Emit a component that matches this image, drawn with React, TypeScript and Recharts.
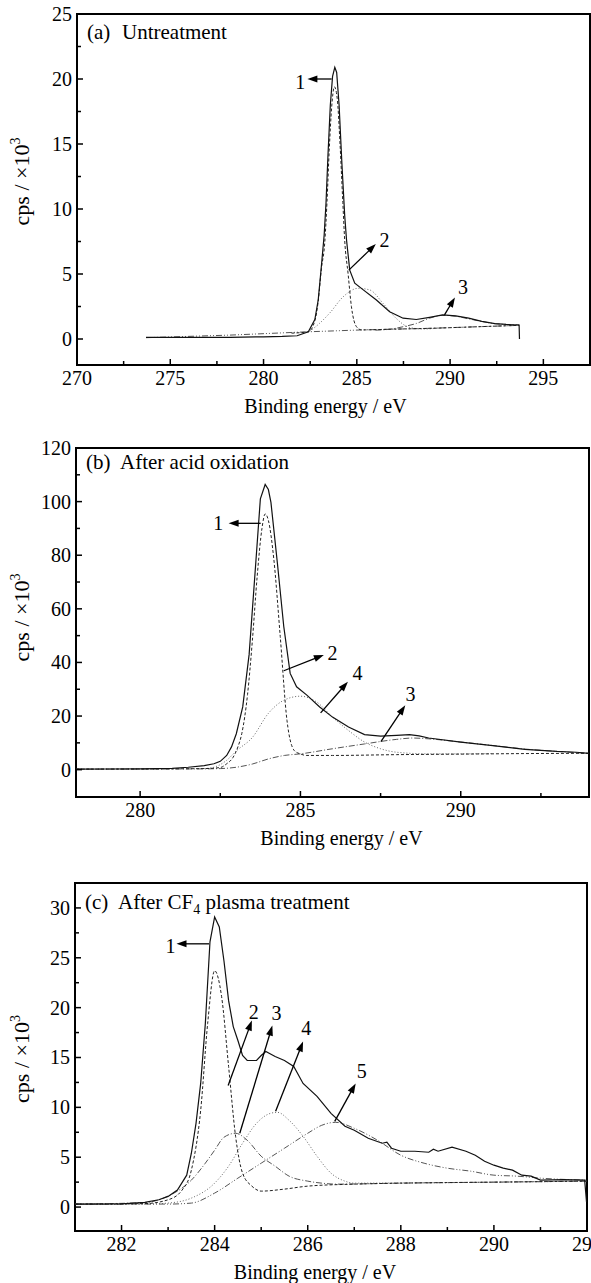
import React from "react";
import {
  LineChart, Line, XAxis, YAxis, ReferenceLine, ReferenceDot, ReferenceArea,
} from "recharts";

type Pt = [number, number];

const FONT = '"Liberation Serif", "Times New Roman", serif';

// ---- (a) Untreatment ----
const aTotal: Pt[] = [
  [273.7, 0.12], [275, 0.12], [277, 0.12], [278.2, 0.13], [280, 0.17], [281, 0.2], [281.8, 0.25],
  [282.4, 0.56], [282.75, 1.5], [282.93, 3.0], [283.1, 5.6], [283.25, 8.0], [283.35, 10.5],
  [283.45, 14.0], [283.58, 18.0], [283.7, 20.2], [283.82, 20.9], [283.92, 20.5], [284.05, 18.0],
  [284.2, 13.5], [284.35, 9.5], [284.45, 7.6], [284.62, 5.3], [284.89, 4.3], [285.33, 3.8],
  [286.05, 3.0], [286.76, 2.1], [287.48, 1.6], [288.19, 1.5], [288.9, 1.67], [289.6, 1.85],
  [290.3, 1.78], [291, 1.6], [291.7, 1.35], [292.4, 1.18], [293.0, 1.12], [293.7, 1.08], [293.72, 0],
];
const aPeak1: Pt[] = [
  [281.5, 0.45], [282.4, 0.56], [282.75, 1.4], [282.93, 2.9], [283.1, 5.4], [283.28, 7.4],
  [283.4, 10.5], [283.52, 14.5], [283.65, 17.8], [283.8, 19.4], [283.95, 18.5], [284.1, 15],
  [284.25, 10.5], [284.35, 7.6], [284.53, 5.05], [284.71, 2.5], [284.98, 0.95], [285.25, 0.7],
  [287, 0.76], [288.9, 0.82], [291, 0.92], [293.7, 1.05],
];
const aPeak2: Pt[] = [
  [282.48, 0.6], [283.0, 1.2], [283.55, 2.0], [284.27, 3.25], [285.07, 3.9], [285.7, 3.77],
  [286.4, 2.75], [287.1, 1.6], [287.8, 0.9], [288.55, 0.77], [289.5, 0.85],
];
const aPeak3: Pt[] = [
  [286.0, 0.68], [286.76, 0.75], [287.5, 0.95], [288.2, 1.2], [288.9, 1.6], [289.6, 1.82],
  [290.3, 1.75], [291.0, 1.55], [291.7, 1.35], [292.4, 1.18], [293.0, 1.12], [293.7, 1.08],
];
const aBase: Pt[] = [[273.7, 0.1], [278.2, 0.3], [282.3, 0.55], [285.3, 0.7], [288.9, 0.82], [293.7, 1.05]];
const aXMajor = [270, 275, 280, 285, 290, 295];
const aXMinor = [272.5, 277.5, 282.5, 287.5, 292.5];
const aYMajor = [0, 5, 10, 15, 20, 25];
const aYMinor = [2.5, 7.5, 12.5, 17.5, 22.5];
const aNotes = [
  { n: "1", tail: [283.65, 20] as Pt, head: [282.35, 20] as Pt, at: [281.97, 19.8] as Pt },
  { n: "2", tail: [284.57, 5.3] as Pt, head: [286.02, 7.3] as Pt, at: [286.48, 7.6] as Pt },
  { n: "3", tail: [289.7, 1.85] as Pt, head: [290.26, 3.2] as Pt, at: [290.69, 4.0] as Pt },
];

// ---- (b) After acid oxidation ----
const bTotal: Pt[] = [
  [278, 0.2], [279, 0.25], [280, 0.3], [280.5, 0.35], [281, 0.5], [281.5, 0.9], [282, 1.5],
  [282.3, 2.2], [282.5, 3.1], [282.7, 5.3], [282.85, 8.5], [283, 13.4], [283.2, 23.4],
  [283.4, 43], [283.6, 76], [283.75, 101], [283.9, 106.4], [284.0, 104.5], [284.08, 99.7],
  [284.28, 77.2], [284.48, 53.4], [284.68, 35.9], [284.88, 30.9], [285.2, 27.8], [285.6, 23.4],
  [286, 19.6], [286.5, 15.9], [287, 13.1], [287.5, 12.5], [288, 12.8], [288.4, 13.1],
  [288.7, 12.6], [289, 11.8], [290, 10.3], [291, 9.0], [292, 7.6], [293, 6.8], [293.6, 6.5], [294, 6.1],
];
const bPeak1: Pt[] = [
  [278, 0.2], [281, 0.3], [282, 0.4], [282.5, 0.8], [282.7, 2.2], [282.9, 4.6], [283.05, 8.5],
  [283.17, 13.4], [283.35, 28], [283.5, 48], [283.65, 72], [283.8, 90], [283.9, 95.4], [284.0, 93],
  [284.17, 78.5], [284.37, 49.7], [284.58, 18.4], [284.81, 7.1], [284.99, 5.9], [285.2, 5.3],
  [286, 5.3], [288, 5.6], [290, 5.8], [292, 6.0], [294, 6.1],
];
const bPeak4: Pt[] = [
  [282.0, 0.4], [282.3, 0.9], [282.7, 3.5], [283, 7], [283.5, 12], [284, 21], [284.5, 26],
  [285, 27.4], [285.5, 25.3], [286, 19.6], [286.5, 14.6], [287, 10.3], [287.5, 7.8], [288, 6.5],
  [289, 5.9], [290, 5.9], [291, 6.0],
];
const bPeak3: Pt[] = [
  [278, 0.2], [282, 0.3], [282.5, 0.4], [283, 0.9], [283.5, 2.1], [284, 4.0], [284.5, 5.3],
  [285, 5.9], [286, 7.8], [287, 9.6], [288, 11.3], [288.5, 11.8], [289, 11.5], [290, 10.3],
  [291, 9.0], [292, 7.7], [293, 6.8], [294, 6.1],
];
const bXMajor = [280, 285, 290];
const bXMinor = [282.5, 287.5, 292.5];
const bYMajor = [0, 20, 40, 60, 80, 100, 120];
const bYMinor = [10, 30, 50, 70, 90, 110];
const bNotes = [
  { n: "1", tail: [283.76, 91.9] as Pt, head: [282.76, 91.9] as Pt, at: [282.44, 91.9] as Pt },
  { n: "2", tail: [284.48, 36.9] as Pt, head: [285.73, 42.8] as Pt, at: [286.0, 43.4] as Pt },
  { n: "4", tail: [285.63, 21.2] as Pt, head: [286.48, 32.8] as Pt, at: [286.78, 35.9] as Pt },
  { n: "3", tail: [287.51, 10.5] as Pt, head: [288.27, 24] as Pt, at: [288.43, 28.4] as Pt },
];

// ---- (c) After CF4 plasma treatment ----
const cTotal: Pt[] = [
  [281, 0.3], [282, 0.33], [282.5, 0.47], [282.8, 0.73], [283, 1.07], [283.2, 1.7], [283.4, 3.2],
  [283.5, 5.4], [283.6, 8.4], [283.7, 12.4], [283.8, 18.4], [283.9, 26.6], [284.0, 29.1],
  [284.1, 28.1], [284.2, 24.7], [284.3, 20.7], [284.4, 18.1], [284.5, 16.7], [284.6, 15.2],
  [284.7, 14.7], [284.9, 14.7], [285.0, 15.2], [285.1, 15.6], [285.3, 15.1], [285.5, 14.7],
  [285.7, 14.1], [285.9, 12.4], [286.2, 11.1], [286.5, 9.4], [286.8, 8.1], [287, 7.7],
  [287.3, 6.9], [287.6, 6.4], [287.7, 6.5], [287.8, 5.9], [288, 5.6], [288.3, 5.6], [288.6, 5.5],
  [288.7, 5.8], [288.8, 5.6], [289.1, 6.0], [289.4, 5.6], [289.6, 5.2], [289.8, 4.6], [290, 4.2],
  [290.2, 3.9], [290.4, 3.7], [290.6, 3.2], [290.8, 3.1], [291, 2.7], [291.5, 2.75], [291.95, 2.7],
  [291.99, 0.5],
];
const cPeak1: Pt[] = [
  [281, 0.3], [282.5, 0.35], [283, 0.73], [283.3, 1.7], [283.5, 3.7], [283.7, 9.7], [283.85, 18.4],
  [284.0, 23.7], [284.15, 21.1], [284.3, 14.1], [284.45, 7.1], [284.6, 3.4], [284.8, 2.1],
  [285, 1.6], [285.5, 1.8], [286, 2.1], [287, 2.3], [288, 2.4], [290, 2.5], [292, 2.6],
];
const cPeak3: Pt[] = [
  [281, 0.3], [282.5, 0.45], [283, 1.1], [283.5, 2.7], [283.8, 4.4], [284.0, 5.7], [284.2, 7.0],
  [284.45, 7.4], [284.7, 6.7], [285, 5.1], [285.3, 4.1], [285.6, 3.1], [286, 2.6], [286.3, 2.4],
  [286.6, 2.3], [288, 2.4], [290, 2.5], [292, 2.6],
];
const cPeak4: Pt[] = [
  [281, 0.3], [282.5, 0.3], [283, 0.4], [283.5, 0.9], [284, 2.4], [284.3, 4.1], [284.6, 6.4],
  [284.9, 8.4], [285.2, 9.4], [285.35, 9.5], [285.6, 8.7], [285.9, 7.1], [286.2, 5.1], [286.5, 3.4],
  [286.8, 2.6], [287, 2.4], [289, 2.45], [292, 2.6],
];
const cPeak5: Pt[] = [
  [281, 0.3], [283, 0.3], [283.5, 0.4], [284, 1.4], [284.5, 2.9], [285, 4.4], [285.5, 5.9],
  [286, 7.4], [286.3, 8.2], [286.6, 8.5], [287, 7.9], [287.5, 6.7], [288, 5.2], [288.5, 4.4],
  [289, 3.9], [289.5, 3.6], [290, 3.2], [290.5, 3.1], [291, 2.9], [292, 2.7],
];
const cXMajor = [282, 284, 286, 288, 290, 292];
const cXMinor = [283, 285, 287, 289, 291];
const cYMajor = [0, 5, 10, 15, 20, 25, 30];
const cYMinor = [2.5, 7.5, 12.5, 17.5, 22.5, 27.5];
const cNotes = [
  { n: "1", tail: [283.88, 26.4] as Pt, head: [283.18, 26.4] as Pt, at: [283.05, 26.2] as Pt },
  { n: "2", tail: [284.29, 12.2] as Pt, head: [284.8, 18.7] as Pt, at: [284.84, 19.6] as Pt },
  { n: "3", tail: [284.54, 7.4] as Pt, head: [285.24, 18.2] as Pt, at: [285.33, 19.5] as Pt },
  { n: "4", tail: [285.31, 9.6] as Pt, head: [285.9, 16.6] as Pt, at: [285.97, 18] as Pt },
  { n: "5", tail: [286.58, 8.6] as Pt, head: [287.03, 12.4] as Pt, at: [287.16, 13.6] as Pt },
];

const SOLID = { stroke: "#111", strokeWidth: 1.2 };
const DASH = { stroke: "#222", strokeWidth: 1, strokeDasharray: "3 2" };
const DOT = { stroke: "#666", strokeWidth: 1, strokeDasharray: "1 2" };
const DASHDOT = { stroke: "#555", strokeWidth: 1, strokeDasharray: "6 2 1 2" };
const DASHDOT2 = { stroke: "#555", strokeWidth: 1, strokeDasharray: "6 2 1 2 1 2" };

const toXY = (pts: Pt[]) => pts.map(([x, y]) => ({ x, y }));

function Arrow(p: any) {
  const { x1, y1, x2, y2 } = p;
  const dx = x2 - x1, dy = y2 - y1;
  const len = Math.hypot(dx, dy) || 1;
  const ux = dx / len, uy = dy / len;
  const hl = 10, hw = 3.5;
  const bx = x2 - ux * hl, by = y2 - uy * hl;
  const pts = `${x2},${y2} ${bx - uy * hw},${by + ux * hw} ${bx + uy * hw},${by - ux * hw}`;
  return (
    <g>
      <line x1={x1} y1={y1} x2={bx + ux * 2} y2={by + uy * 2} stroke="#000" strokeWidth={1.3} />
      <polygon points={pts} fill="#000" />
    </g>
  );
}

const makeXTick = (majors: number[]) => (p: any) => {
  const v = p.payload.value;
  const major = majors.includes(v);
  return (
    <g>
      <line x1={p.x} x2={p.x} y1={p.y} y2={p.y - (major ? 6 : 4)} stroke="#000" strokeWidth={1.5} />
      {major && (
        <text x={p.x} y={p.y + 20} textAnchor="middle" fontSize={20} fontFamily={FONT} fill="#000">{v}</text>
      )}
    </g>
  );
};

const makeYTick = (majors: number[]) => (p: any) => {
  const v = p.payload.value;
  const major = majors.includes(v);
  return (
    <g>
      <line x1={p.x} x2={p.x + (major ? 6 : 4)} y1={p.y} y2={p.y} stroke="#000" strokeWidth={1.5} />
      {major && (
        <text x={p.x - 5} y={p.y + 7} textAnchor="end" fontSize={20} fontFamily={FONT} fill="#000">{v}</text>
      )}
    </g>
  );
};

type Series = { pts: Pt[]; style: any; curve?: "linear" | "monotone" };
type Note = { n: string; tail: Pt; head: Pt; at: Pt };

function Panel(props: {
  top: number; height: number; margin: any; yw: number; xh: number;
  xDomain: [number, number]; yDomain: [number, number];
  xMajor: number[]; xMinor: number[]; yMajor: number[]; yMinor: number[];
  series: Series[]; notes: Note[];
  tag: string; title: (x: number) => React.ReactNode; titleDy: number; titleX: number;
  xTitleDx: number; yTitleDy: number;
}) {
  const p = props;
  const xTicks = [...p.xMajor, ...p.xMinor].sort((a, b) => a - b);
  const yTicks = [...p.yMajor, ...p.yMinor].sort((a, b) => a - b);
  return (
    <div style={{ position: "absolute", left: 0, top: p.top }}>
      <LineChart width={591} height={p.height} margin={p.margin}>
        <XAxis
          type="number" dataKey="x" domain={p.xDomain} ticks={xTicks} interval={0}
          allowDataOverflow tickSize={0} tickMargin={0} tickLine={false} axisLine={false}
          height={p.xh} tick={makeXTick(p.xMajor)}
          label={{
            content: (lp: any) => {
              const vb = lp.viewBox;
              return (
                <text x={vb.x + vb.width / 2 + p.xTitleDx} y={vb.y + 48} textAnchor="middle"
                  fontSize={20} fontFamily={FONT} fill="#000">Binding energy / eV</text>
              );
            },
          }}
        />
        <YAxis
          type="number" domain={p.yDomain} ticks={yTicks} interval={0}
          allowDataOverflow tickSize={0} tickMargin={0} tickLine={false} axisLine={false}
          width={p.yw} tick={makeYTick(p.yMajor)}
          label={{
            content: (lp: any) => {
              const vb = lp.viewBox;
              const cy = vb.y + vb.height / 2 + p.yTitleDy;
              return (
                <text x={29} y={cy} transform={`rotate(-90 29 ${cy})`} textAnchor="middle"
                  fontSize={22} fontFamily={FONT} fill="#000">
                  <tspan>cps / ×10</tspan>
                  <tspan dy={-9} fontSize={14}>3</tspan>
                </text>
              );
            },
          }}
        />
        {p.series.map((s, i) => (
          <Line
            key={i} data={toXY(s.pts)} dataKey="y" type={s.curve ?? "monotone"}
            dot={false} activeDot={false} isAnimationActive={false} {...s.style}
          />
        ))}
        {p.notes.map((a) => (
          <ReferenceLine
            key={"l" + a.n}
            segment={[{ x: a.tail[0], y: a.tail[1] }, { x: a.head[0], y: a.head[1] }]}
            ifOverflow="visible" shape={Arrow}
          />
        ))}
        {p.notes.map((a) => (
          <ReferenceDot
            key={"d" + a.n} x={a.at[0]} y={a.at[1]} ifOverflow="visible"
            shape={(dp: any) => (
              <text x={dp.cx} y={dp.cy + 7} textAnchor="middle" fontSize={20}
                fontFamily={FONT} fill="#000">{a.n}</text>
            )}
          />
        ))}
        <ReferenceDot
          x={p.xDomain[0]} y={p.yDomain[1]} ifOverflow="visible"
          shape={(dp: any) => (
            <text x={dp.cx + 10} y={dp.cy + p.titleDy} fontSize={21} fontFamily={FONT} fill="#000">
              <tspan>{p.tag}</tspan>
              {p.title(dp.cx + p.titleX)}
            </text>
          )}
        />
        <ReferenceArea
          x1={p.xDomain[0]} x2={p.xDomain[1]} y1={p.yDomain[0]} y2={p.yDomain[1]}
          fill="none" stroke="#000" strokeWidth={2} ifOverflow="visible"
        />
      </LineChart>
    </div>
  );
}

export default function App() {
  return (
    <div style={{ position: "absolute", left: 0, top: 0, width: 591, height: 1283, background: "#fff", fontFamily: FONT }}>
      <Panel
        top={0} height={420} margin={{ top: 14, right: 1, bottom: 0, left: 0 }} yw={77} xh={55}
        xDomain={[270, 297.5]} yDomain={[-2, 25]}
        xMajor={aXMajor} xMinor={aXMinor} yMajor={aYMajor} yMinor={aYMinor}
        series={[
          { pts: aBase, style: DASHDOT2, curve: "linear" },
          { pts: aPeak3, style: DASHDOT },
          { pts: aPeak2, style: DOT },
          { pts: aPeak1, style: DASH },
          { pts: aTotal, style: SOLID, curve: "linear" },
        ]}
        notes={aNotes}
        tag="(a)" titleX={45} titleDy={25}
        title={(x) => <tspan x={x}>Untreatment</tspan>}
        xTitleDx={-8} yTitleDy={-8}
      />
      <Panel
        top={420} height={430} margin={{ top: 28, right: 2, bottom: 0, left: 0 }} yw={76} xh={53}
        xDomain={[278, 294]} yDomain={[-10.2, 120]}
        xMajor={bXMajor} xMinor={bXMinor} yMajor={bYMajor} yMinor={bYMinor}
        series={[
          { pts: bPeak3, style: DASHDOT },
          { pts: bPeak4, style: DOT },
          { pts: bPeak1, style: DASH },
          { pts: bTotal, style: SOLID, curve: "linear" },
        ]}
        notes={bNotes}
        tag="(b)" titleX={44} titleDy={21}
        title={(x) => <tspan x={x}>After acid oxidation</tspan>}
        xTitleDx={9} yTitleDy={-5}
      />
      <Panel
        top={850} height={433} margin={{ top: 33, right: 4, bottom: 0, left: 0 }} yw={75} xh={52}
        xDomain={[281, 292]} yDomain={[-2.4, 32.5]}
        xMajor={cXMajor} xMinor={cXMinor} yMajor={cYMajor} yMinor={cYMinor}
        series={[
          { pts: cPeak5, style: DASHDOT2 },
          { pts: cPeak4, style: DOT },
          { pts: cPeak3, style: DASHDOT },
          { pts: cPeak1, style: DASH },
          { pts: cTotal, style: SOLID, curve: "linear" },
        ]}
        notes={cNotes}
        tag="(c)" titleX={43} titleDy={26}
        title={(x) => (
          <>
            <tspan x={x}>After CF</tspan>
            <tspan dy={5} fontSize={14}>4</tspan>
            <tspan dy={-5}> plasma treatment</tspan>
          </>
        )}
        xTitleDx={-16} yTitleDy={2}
      />
    </div>
  );
}
